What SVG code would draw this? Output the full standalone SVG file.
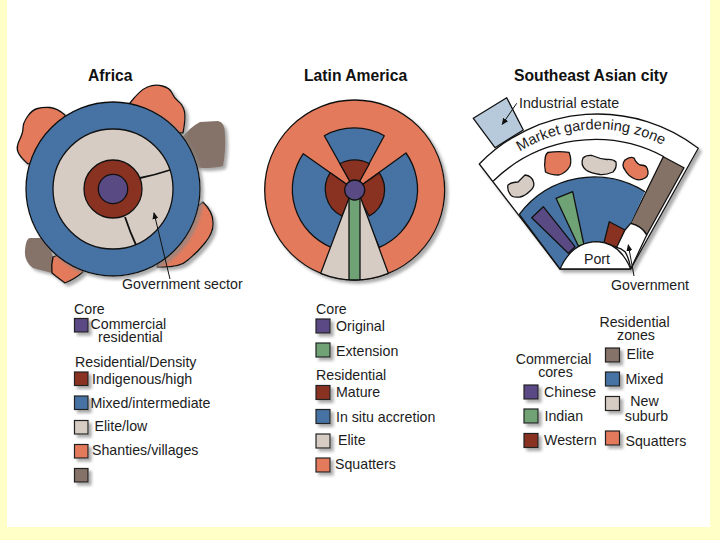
<svg xmlns="http://www.w3.org/2000/svg" width="720" height="540" viewBox="0 0 720 540">
<style>
text{font-family:"Liberation Sans",Arial,sans-serif;font-size:14.2px;fill:#1c1c1c}
.t{font-weight:bold;font-size:15.7px;fill:#111}
.m{text-anchor:middle}
.k{stroke:#111;stroke-width:1.3;stroke-linejoin:round}
.pu{fill:#5a4a84}.bl{fill:#4673a4}.re{fill:#8a3222}.be{fill:#d6ccc4}.or{fill:#e37a5c}.gr{fill:#857267}.ge{fill:#6fa274}.wh{fill:#fff}
.sw{stroke:#222;stroke-width:1.2;filter:url(#sh)}
.l{fill:none;stroke:#111;stroke-width:1}
.a{fill:none;stroke:#111;stroke-width:1.3}
.h{fill:none;stroke:#111;stroke-width:1.8}
</style>
<defs>
<filter id="sh" x="-30%" y="-30%" width="170%" height="170%"><feDropShadow dx="3" dy="3" stdDeviation="1.5" flood-color="#888" flood-opacity=".7"/></filter>
<marker id="ar" markerWidth="7" markerHeight="6" refX="6" refY="3" orient="auto"><path d="M0 0L7 3L0 6z" fill="#111"/></marker>
</defs>
<rect width="720" height="540" fill="#ffffc8"/>
<rect x="7" y="0" width="703" height="527" fill="#fff"/>

<g id="africa">
<text class="t" x="88" y="81">Africa</text>
<g filter="url(#sh)">
<path class="gr" d="M180 140Q190 127 200 122L218 121Q225 122 225 135Q226 150 223 166Q215 168 203 168Q195 168 185 160Z"/>
<path class="gr" d="M53 257Q48 240 42 238L30 238Q26 238 25 250Q24 262 33 268L60 275Z"/>
</g>
<g filter="url(#sh)" class="k">
<path class="or" d="M65 115Q57 108 50 107.5Q43 107 37.5 108.5Q32 110 27.5 116.5Q23 123 23 128Q23 133 19.5 140Q16 147 18 152Q20 157 28 164L70 150Z"/>
<path class="or" d="M130 103Q140 90 147.5 87Q155 84 162.5 86Q170 88 172 93Q174 98 178.5 101.5Q183 105 184.5 111.5Q186 118 183 133L150 130Z"/>
<path class="or" d="M203 202Q213 212 213 222Q214 232 205 243Q197 253 188 260Q180 268 157 267L170 230Z"/>
<path class="or" d="M53 257Q51 265 52 273Q58 278 65 283Q75 279 83 272L70 250Z"/>
</g>
<circle class="bl k" cx="113" cy="189" r="87" filter="url(#sh)"/>
<circle class="be k" cx="113" cy="189" r="60"/>
<path class="h" d="M140 178Q155 175 170 170M125 217Q130 232 136 245"/>
<circle class="re k" cx="113" cy="189" r="29"/>
<circle class="pu k" cx="113" cy="189" r="14.7"/>
<path class="l" d="M170 279L154 213" marker-end="url(#ar)"/>
<text x="122" y="289">Government sector</text>
</g>

<g id="latin-america">
<text class="t" x="304" y="81">Latin America</text>
<circle class="or k" cx="354.7" cy="190" r="90" filter="url(#sh)"/>
<path class="bl k" d="M354.7 190L324.3 135.7A62 62 0 0 1 384.3 135.7Z"/>
<path class="bl k" d="M354.7 190L303.3 153.7A63 63 0 0 0 331 247.3Z"/>
<path class="bl k" d="M354.7 190L406 153A63 63 0 0 1 379.3 247.3Z"/>
<path class="re k" d="M354.7 190L340 163.8A30 30 0 0 1 369.4 163.8Z"/>
<path class="re k" d="M354.7 190L330.2 172.7A30 30 0 0 0 341.7 216Z"/>
<path class="re k" d="M354.7 190L379.2 172.7A30 30 0 0 1 369.3 216Z"/>
<path class="be k" d="M349 198H360.7L388.3 273.3A90 90 0 0 1 320.7 273.3Z"/>
<path class="ge k" d="M349 198H360V279.6Q354.7 280 349 279.6Z"/>
<circle class="pu k" cx="354.7" cy="190" r="10"/>
</g>

<g id="southeast-asian-city">
<text class="t" x="514" y="81">Southeast Asian city</text>
<path d="M473.3 118.3L506.7 97.7L523.3 130L495 147.7Z" fill="#b7cadb" class="k"/>
<path class="l" d="M516.7 103.3L502.3 124.3" marker-end="url(#ar)"/>
<text x="519" y="108">Industrial estate</text>
<path class="wh k" filter="url(#sh)" d="M479.3 164A165 165 0 0 1 698.3 148.3L630.7 269H560Z"/>
<path class="a" d="M493.3 181A146 146 0 0 1 664 156.7"/>
<path id="mg" fill="none" d="M520 151.7A145 145 0 0 1 672 150"/>
<text style="font-size:14.6px"><textPath href="#mg">Market gardening zone</textPath></text>
<path class="gr k" d="M663.3 156.7L684 167.7L646.7 235Q642 226 630.7 223.3Z"/>
<path class="bl" d="M519.3 214.3A94 94 0 0 1 645 191.7L630.7 223.3L616.7 247.3L630.7 269H560Z"/>
<path class="a" d="M519.3 214.3A94 94 0 0 1 645 191.7"/>
<path class="a" d="M519.3 214.3L560 269"/>
<path class="pu k" d="M531.7 217.7L543.3 206.7L575 246.7L568.3 253.3Z"/>
<path class="ge k" d="M556 198.3L572.7 191.7L584 245L578.3 246Z"/>
<path class="re k" d="M609.3 221.7L625 230L617.3 247.3L604 242.7Z"/>
<path class="wh k" d="M630.7 223.3Q642 226 646.7 235L630.7 269Q629 258 625 251.7Q621 248 616.7 247.3L625 230Z"/>
<path class="wh k" d="M560 269Q572 242 597.3 241.7Q620 243 630.7 269Z"/>
<text x="584" y="263.5">Port</text>
<path class="or k" d="M547.7 152.5Q558 151 569 152.3Q572 160 570 166Q566 173 559 175Q550 175 545.5 172Q544 165 545 160Q545 155 547.7 152.5Z"/>
<path class="be k" d="M583 158Q586 155 592 155.5Q600 159 607 159.5Q613 159 616 162Q617 168 613 172Q606 175 600 174.5Q590 173 586 170Q580 165 583 158Z"/>
<path class="or k" d="M625 160Q630 156 634 158Q636 163 640 165Q646 165 647 168Q650 175 645 178Q640 181 635 179Q628 176 625 170Q621 165 625 160Z"/>
<path class="be k" d="M508 185Q512 182 518 182Q522 178 525 175Q532 176 533.5 182Q535 187 530 191Q525 196 520 197Q512 198 510 194Q507 190 508 185Z"/>
<path class="l" d="M634 276L628.3 245" marker-end="url(#ar)"/>
<text x="611" y="290">Government</text>
</g>

<g id="legend-africa">
<text x="74" y="314">Core</text>
<rect class="sw pu" x="74.5" y="318.5" width="13.5" height="13.5"/>
<text x="90.5" y="328.5">Commercial</text>
<text x="98" y="342">residential</text>
<text x="75" y="367">Residential/Density</text>
<rect class="sw re" x="74.5" y="372" width="13.5" height="13.5"/>
<text x="92" y="384">Indigenous/high</text>
<rect class="sw bl" x="74.5" y="396" width="13.5" height="13.5"/>
<text x="90.5" y="407.5">Mixed/intermediate</text>
<rect class="sw be" x="74.5" y="420.5" width="13.5" height="13.5"/>
<text x="94.5" y="431">Elite/low</text>
<rect class="sw or" x="74.5" y="444.5" width="13.5" height="13.5"/>
<text x="92" y="455">Shanties/villages</text>
<rect class="sw gr" x="74.5" y="468.5" width="13.5" height="13.5"/>
</g>

<g id="legend-latin-america">
<text x="316" y="314">Core</text>
<rect class="sw pu" x="316" y="319" width="14" height="14"/>
<text x="336" y="331">Original</text>
<rect class="sw ge" x="316" y="343" width="14" height="14"/>
<text x="336" y="355.5">Extension</text>
<text x="316" y="380">Residential</text>
<rect class="sw re" x="316" y="385.5" width="14" height="14"/>
<text x="336" y="397">Mature</text>
<rect class="sw bl" x="316" y="409.5" width="14" height="14"/>
<text x="336" y="421.5">In situ accretion</text>
<rect class="sw be" x="316" y="434" width="14" height="14"/>
<text x="338" y="444.5">Elite</text>
<rect class="sw or" x="316" y="458" width="14" height="14"/>
<text x="335" y="468.5">Squatters</text>
</g>

<g id="legend-southeast-asian-city">
<text class="m" x="553.5" y="364">Commercial</text>
<text class="m" x="555.5" y="377">cores</text>
<rect class="sw pu" x="524" y="385" width="14" height="14"/>
<text x="544" y="396.5">Chinese</text>
<rect class="sw ge" x="524" y="409" width="14" height="14"/>
<text x="544.5" y="420.5">Indian</text>
<rect class="sw re" x="524" y="433.5" width="14" height="14"/>
<text x="544" y="444.5">Western</text>
<text class="m" x="634.5" y="327">Residential</text>
<text class="m" x="636" y="340">zones</text>
<rect class="sw gr" x="605.5" y="348" width="14" height="14"/>
<text x="626.5" y="359">Elite</text>
<rect class="sw bl" x="605.5" y="372" width="14" height="14"/>
<text x="625.5" y="383.5">Mixed</text>
<rect class="sw be" x="605.5" y="396.5" width="14" height="14"/>
<text class="m" x="644.5" y="406">New</text>
<text class="m" x="646.5" y="421">suburb</text>
<rect class="sw or" x="605.5" y="431" width="14" height="14"/>
<text x="625.5" y="446">Squatters</text>
</g>
</svg>
